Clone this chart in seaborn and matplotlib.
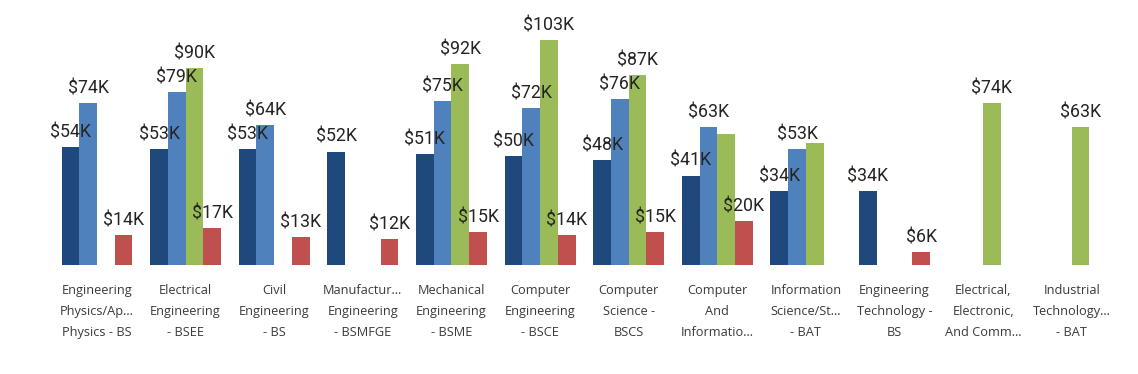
import matplotlib
matplotlib.use("Agg")
import matplotlib.pyplot as plt
import seaborn as sns
import pandas as pd

# degree programs (x axis), tick text wrapped as in the report
categories = [
    "Engineering\nPhysics/Ap…\nPhysics - BS",
    "Electrical\nEngineering\n- BSEE",
    "Civil\nEngineering\n- BS",
    "Manufactur…\nEngineering\n- BSMFGE",
    "Mechanical\nEngineering\n- BSME",
    "Computer\nEngineering\n- BSCE",
    "Computer\nScience -\nBSCS",
    "Computer\nAnd\nInformatio…",
    "Information\nScience/St…\n- BAT",
    "Engineering\nTechnology -\nBS",
    "Electrical,\nElectronic,\nAnd Comm…",
    "Industrial\nTechnology…\n- BAT",
]
series = ["Series 1", "Series 2", "Series 3", "Series 4"]

# values in $K, None = no bar
s1_vals = [54, 53, 53, 52, 51, 50, 48, 41, 34, 34, None, None]
s2_vals = [74, 79, 64, None, 75, 72, 76, 63, 53, None, None, None]
s3_vals = [None, 90, None, None, 92, 103, 87, 60, 56, None, 74, 63]
s4_vals = [14, 17, 13, 12, 15, 14, 15, 20, None, 6, None, None]

# data labels that the report hides because of overlap
hidden = {(7, "Series 3"), (8, "Series 3")}

colors = ["#1F497D", "#4F81BD", "#9BBB59", "#C0504D"]

rows = []
for name, vals in zip(series, [s1_vals, s2_vals, s3_vals, s4_vals]):
    for cat, v in zip(categories, vals):
        rows.append({"program": cat, "series": name, "value": v})
df = pd.DataFrame(rows)

sns.set_style("white")
plt.rcParams["font.family"] = ["Roboto", "DejaVu Sans"]

fig = plt.figure(figsize=(11.38, 3.74), dpi=100)
ax = fig.add_axes([0.0463, 0.291, 0.9344, 0.682])

sns.barplot(data=df, x="program", y="value", hue="series",
            order=categories, hue_order=series, palette=colors,
            saturation=1, width=0.8, linewidth=0, errorbar=None,
            legend=False, ax=ax)

ax.set_ylim(0, 116.7)
ax.set_xlim(-0.5, len(categories) - 0.5)

for name, cont in zip(series, ax.containers):
    for bar in cont:
        h = bar.get_height()
        if h != h:
            continue
        xc = bar.get_x() + bar.get_width() / 2
        idx = int(round(xc))
        if (idx, name) in hidden:
            continue
        ax.annotate(f"${h:.0f}K", (xc, h), xytext=(0, 4),
                    textcoords="offset points", ha="center", va="bottom",
                    fontsize=12.8, color="#252423", annotation_clip=False)

ax.set_xlabel("")
ax.set_ylabel("")
ax.set_yticks([])
ax.tick_params(axis="x", length=0, pad=13.5)
for lab in ax.get_xticklabels():
    lab.set_fontfamily(["Open Sans", "DejaVu Sans"])
    lab.set_fontsize(9.2)
    lab.set_color("#3a3a3a")
    lab.set_linespacing(1.78)
    lab.set_verticalalignment("top")
sns.despine(left=True, bottom=True)

fig.savefig("out.png", dpi=100)
